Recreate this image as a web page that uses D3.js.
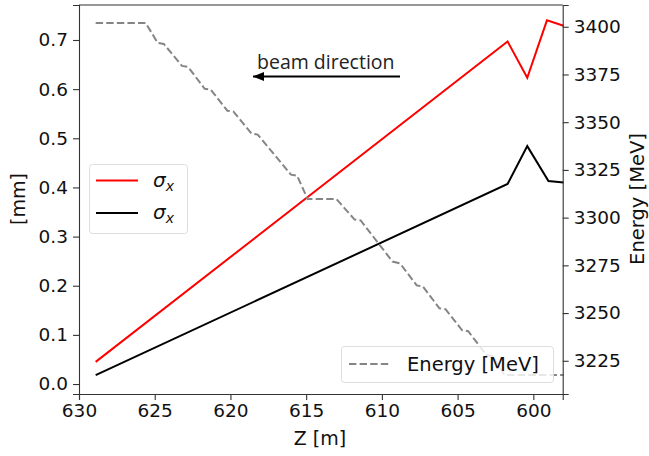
<!DOCTYPE html>
<html><head><meta charset="utf-8">
<script src="https://cdn.jsdelivr.net/npm/d3@7"></script>
<style>body{margin:0;background:#fff}svg{display:block}</style>
</head><body>
<svg id="c" width="649" height="456"></svg>
<script>
// Data
const redZ   = [628.9, 601.7, 600.4, 599.1, 598.0];
const redS   = [0.045, 0.697, 0.623, 0.740, 0.729];
const blackZ = [628.9, 601.7, 600.4, 599.0, 598.0];
const blackS = [0.018, 0.407, 0.484, 0.413, 0.410];
const energyZ = [628.9, 625.6, 624.8, 624.4, 623.2, 622.8, 621.7, 621.3, 620.2, 619.8,
                 618.6, 618.2, 616.0, 615.6, 614.9, 613.0, 611.8, 611.4, 609.3, 608.8,
                 607.7, 607.3, 606.2, 605.8, 604.7, 604.3, 603.1, 602.7, 601.9, 598.0];
const energyE = [3402, 3402, 3391.5, 3391, 3379.5, 3379, 3367.5, 3367, 3356, 3355.5,
                 3344, 3343.5, 3322.5, 3322, 3309.7, 3309.7, 3299, 3298.5, 3277, 3276,
                 3264.5, 3264, 3252.5, 3252, 3241, 3240.5, 3228, 3227.5, 3217.5, 3217.5];
const xTicks = [630, 625, 620, 615, 610, 605, 600];
const yTicks = [0.0, 0.1, 0.2, 0.3, 0.4, 0.5, 0.6, 0.7];
const eTicks = [3225, 3250, 3275, 3300, 3325, 3350, 3375, 3400];

const svg = d3.select("#c");
const L = 79, R = 562.7, T = 5, B = 394;
const x = d3.scaleLinear().domain([630, 598.06]).range([L, R]);
const y = d3.scaleLinear().domain([-0.0203, 0.7712]).range([B, T]);
const yE = d3.scaleLinear().domain([3207.6, 3411.4]).range([B, T]);
const font = "DejaVu Sans, sans-serif";
const ink = "#111";

function styleAxis(g) {
  g.selectAll("path").attr("stroke", "#333").attr("stroke-width", 1.1);
  g.selectAll("line").attr("stroke", "#333").attr("stroke-width", 1.1);
  g.selectAll("text").attr("font-family", font).attr("font-size", 18.5).attr("fill", ink);
}

const pts = (zs, vs) => zs.map((z, i) => [z, vs[i]]);
const lineS = d3.line().x(d => x(d[0])).y(d => y(d[1]));
const lineE = d3.line().x(d => x(d[0])).y(d => yE(d[1]));

svg.append("path").attr("d", lineS(pts(redZ, redS))).attr("fill", "none")
  .attr("stroke", "#ff0000").attr("stroke-width", 2);
svg.append("path").attr("d", lineS(pts(blackZ, blackS))).attr("fill", "none")
  .attr("stroke", "#000").attr("stroke-width", 2);

// legend sigma
const lg = svg.append("g");
lg.append("rect").attr("x", 89.5).attr("y", 164.5).attr("width", 98).attr("height", 69)
  .attr("rx", 3).attr("fill", "#fff").attr("fill-opacity", 0.8).attr("stroke", "#ddd");
[["#ff0000", 180.5], ["#000", 213]].forEach(([c, yy]) => {
  lg.append("line").attr("x1", 96).attr("x2", 138).attr("y1", yy).attr("y2", yy)
    .attr("stroke", c).attr("stroke-width", 2);
  const t = lg.append("text").attr("x", 153).attr("y", yy + 6).attr("font-family", font)
    .attr("font-size", 20).attr("font-style", "italic").attr("fill", ink);
  t.append("tspan").text("σ");
  t.append("tspan").attr("font-size", 14).attr("dy", 4).text("x");
});

// energy line
svg.append("path").attr("d", lineE(pts(energyZ, energyE))).attr("fill", "none")
  .attr("stroke", "#858585").attr("stroke-width", 2).attr("stroke-dasharray", "7.4,3.2");

// energy legend
const le = svg.append("g");
le.append("rect").attr("x", 341.5).attr("y", 346.5).attr("width", 212).attr("height", 36)
  .attr("rx", 3).attr("fill", "#fff").attr("fill-opacity", 0.8).attr("stroke", "#ddd");
le.append("line").attr("x1", 349).attr("x2", 391).attr("y1", 364).attr("y2", 364)
  .attr("stroke", "#858585").attr("stroke-width", 2).attr("stroke-dasharray", "7.4,3.2");
le.append("text").attr("x", 407).attr("y", 371).attr("font-family", font)
  .attr("font-size", 19.5).attr("fill", ink).text("Energy [MeV]");

// axes
const gx = svg.append("g").attr("transform", `translate(0,${B})`)
  .call(d3.axisBottom(x).tickValues(xTicks).tickFormat(d3.format("d")).tickSizeOuter(0).tickSize(6).tickPadding(4));
styleAxis(gx);
const gy = svg.append("g").attr("transform", `translate(${L},0)`)
  .call(d3.axisLeft(y).tickValues(yTicks).tickFormat(d3.format(".1f")).tickSizeOuter(0).tickSize(6).tickPadding(5));
styleAxis(gy);
const gr = svg.append("g").attr("transform", `translate(${R},0)`)
  .call(d3.axisRight(yE).tickValues(eTicks).tickFormat(d3.format("d")).tickSizeOuter(0).tickSize(6).tickPadding(5));
styleAxis(gr);
svg.append("line").attr("x1", L).attr("x2", R).attr("y1", T).attr("y2", T).attr("stroke", "#333").attr("stroke-width", 1.1);

// axis labels
svg.append("text").attr("x", 320).attr("y", 445).attr("text-anchor", "middle")
  .attr("font-family", font).attr("font-size", 19).attr("fill", ink).text("Z [m]");
svg.append("text").attr("transform", "translate(25,199) rotate(-90)").attr("text-anchor", "middle")
  .attr("font-family", font).attr("font-size", 19).attr("fill", ink).text("[mm]");
svg.append("text").attr("transform", "translate(644,199) rotate(-90)").attr("text-anchor", "middle")
  .attr("font-family", font).attr("font-size", 19.5).attr("fill", ink).text("Energy [MeV]");

// beam direction annotation
svg.append("line").attr("x1", 400).attr("x2", 253).attr("y1", 76.5).attr("y2", 76.5)
  .attr("stroke", "#000").attr("stroke-width", 1.8);
svg.append("path").attr("d", `M253,76.5 L264,72 L264,81 Z`).attr("fill", "#000");
svg.append("text").attr("x", 257).attr("y", 69).attr("font-family", "Open Sans, sans-serif")
  .attr("font-size", 19.5).attr("fill", "#222").text("beam direction");
</script>
</body></html>
